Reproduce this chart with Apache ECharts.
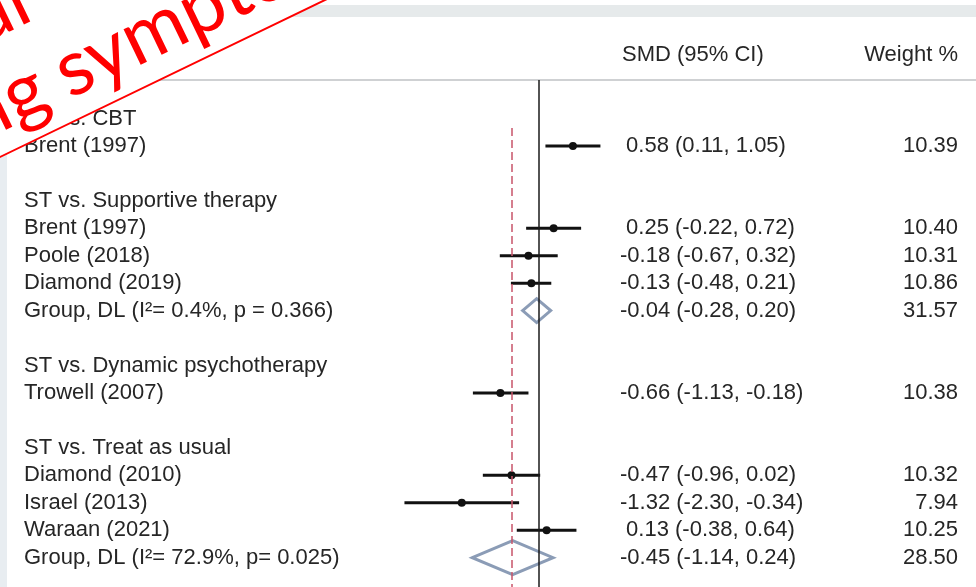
<!DOCTYPE html>
<html>
<head>
    <meta charset="utf-8">
    <title>Forest plot - SMD</title>
    <script src="https://cdn.jsdelivr.net/npm/echarts@6/dist/echarts.min.js"></script>
    <style>
        html, body { margin: 0; padding: 0; background: #fff; }
    </style>
</head>
<body>
    <div id="main" style="width: 976px;height:587px;"></div>
    <script type="text/javascript">
    // row labels (row index = position from top, '' = blank row)
    var rowLabels = [
        'ST vs. CBT',
        'Brent (1997)',
        '',
        'ST vs. Supportive therapy',
        'Brent (1997)',
        'Poole (2018)',
        'Diamond (2019)',
        'Group, DL (I\u00b2= 0.4%, p = 0.366)',
        '',
        'ST vs. Dynamic psychotherapy',
        'Trowell (2007)',
        '',
        'ST vs. Treat as usual',
        'Diamond (2010)',
        'Israel (2013)',
        'Waraan (2021)',
        'Group, DL (I\u00b2= 72.9%, p= 0.025)'
    ];

    // single studies
    var studyRows = [1, 4, 5, 6, 10, 13, 14, 15];
    var studyEst = [0.58, 0.25, -0.18, -0.13, -0.66, -0.47, -1.32, 0.13];
    var studyLo = [0.11, -0.22, -0.67, -0.48, -1.13, -0.96, -2.30, -0.38];
    var studyHi = [1.05, 0.72, 0.32, 0.21, -0.18, 0.02, -0.34, 0.64];
    var studyWeight = [10.39, 10.40, 10.31, 10.86, 10.38, 10.32, 7.94, 10.25];

    // pooled groups
    var groupRows = [7, 16];
    var groupEst = [-0.04, -0.45];
    var groupLo = [-0.28, -1.14];
    var groupHi = [0.20, 0.24];
    var groupWeight = [31.57, 28.50];

    var overallSMD = -0.46;

    // ---- build per-row text for the two right columns
    var smdText = {};
    var weightText = {};
    function fmt(v) { return v.toFixed(2); }
    function addRow(row, e, l, h, w) {
        var s = fmt(e) + ' (' + fmt(l) + ', ' + fmt(h) + ')';
        smdText[row] = (e < 0 ? '' : ' ') + s;
        weightText[row] = fmt(w);
    }
    studyRows.forEach(function (r, i) { addRow(r, studyEst[i], studyLo[i], studyHi[i], studyWeight[i]); });
    groupRows.forEach(function (r, i) { addRow(r, groupEst[i], groupLo[i], groupHi[i], groupWeight[i]); });

    var labelRows = [];
    rowLabels.forEach(function (t, i) { if (t) labelRows.push(i); });
    var valueRows = studyRows.concat(groupRows);

    var studyData = studyRows.map(function (r, i) { return [studyEst[i], studyLo[i], studyHi[i], r]; });
    var groupData = groupRows.map(function (r, i) { return [groupEst[i], groupLo[i], groupHi[i], r]; });

    var FONT = '"Liberation Sans", Arial, sans-serif';
    var TXT = '#262626';
    var yMin = -1.403, yMax = 17.07;

    var myChart = echarts.init(document.getElementById('main'));

    function yAxisBase(extra) {
        return Object.assign({
            type: 'value',
            inverse: true,
            min: yMin,
            max: yMax,
            axisLine: { show: false },
            axisTick: { show: false },
            splitLine: { show: false }
        }, extra);
    }

    // diamond half heights (px)
    var diamondHalf = [12, 17];

    var option = {
        animation: false,
        backgroundColor: '#fff',
        grid: { left: 392.75, top: 80, width: 555.75, height: 507, outerBoundsMode: 'none' },
        xAxis: {
            type: 'value', min: -2.5, max: 7,
            show: false
        },
        yAxis: [
            yAxisBase({
                position: 'left',
                axisLabel: {
                    customValues: labelRows,
                    align: 'left', margin: 368.75,
                    fontFamily: FONT, fontSize: 22, color: TXT,
                    formatter: function (v) { return rowLabels[v]; }
                }
            }),
            yAxisBase({
                position: 'right',
                axisLabel: {
                    customValues: valueRows,
                    align: 'left', margin: -328.5,
                    fontFamily: FONT, fontSize: 22, color: TXT,
                    formatter: function (v) { return smdText[v]; }
                }
            }),
            yAxisBase({
                position: 'right',
                axisLabel: {
                    customValues: valueRows,
                    align: 'right', margin: 9.5,
                    fontFamily: FONT, fontSize: 22, color: TXT,
                    formatter: function (v) { return weightText[v]; }
                }
            })
        ],
        graphic: [
            // slide background pieces
            { type: 'rect', z: -10, shape: { x: 0, y: 5, width: 976, height: 12 }, style: { fill: '#e6eaeb' } },
            { type: 'rect', z: -10, shape: { x: 0, y: 79, width: 976, height: 2 }, style: { fill: '#cfd1d3' } },
            { type: 'rect', z: -10, shape: { x: 0, y: 0, width: 7, height: 587 }, style: { fill: '#e8edf1' } },
            // column headers
            { type: 'text', z: 10, x: 622, y: 55, style: { text: 'SMD (95% CI)', font: '22px ' + FONT, fill: TXT, verticalAlign: 'middle', align: 'left' } },
            { type: 'text', z: 10, x: 958, y: 55, style: { text: 'Weight %', font: '22px ' + FONT, fill: TXT, verticalAlign: 'middle', align: 'right' } },
            // red rotated banner over the top-left corner
            {
                type: 'group', z: 100, x: 0, y: 157, rotation: Math.atan2(157, 325),
                children: [
                    { type: 'rect', z: 100, shape: { x: -300, y: -500, width: 1500, height: 500 }, style: { fill: '#fff', stroke: '#ff0000', lineWidth: 2 } },
                    { type: 'text', z: 101, x: 102, y: -134, style: { text: 'Depressive behaviour', font: '78px Lato, sans-serif', fill: '#ff0000', align: 'right', verticalAlign: 'middle' } },
                    { type: 'text', z: 101, x: 70, y: -47, style: { text: 'Self-harming', font: '78px Lato, sans-serif', fill: '#ff0000', align: 'right', verticalAlign: 'middle' } },
                    { type: 'text', z: 101, x: 88, y: -47, style: { text: 'symptoms', font: '78px Lato, sans-serif', fill: '#ff0000', align: 'left', verticalAlign: 'middle' } }
                ]
            }
        ],
        series: [
            {
                name: 'refs',
                type: 'line',
                data: [],
                markLine: {
                    silent: true,
                    symbol: 'none',
                    label: { show: false },
                    data: [
                        { xAxis: 0, lineStyle: { color: '#1a1a1a', width: 1.5, type: 'solid' } },
                        [
                            { coord: [overallSMD, 0.35], lineStyle: { color: '#c8546a', width: 1.5, type: [8, 4] } },
                            { coord: [overallSMD, yMax] }
                        ]
                    ]
                }
            },
            {
                name: 'studies',
                type: 'custom',
                data: studyData,
                encode: { x: [0, 1, 2], y: 3 },
                renderItem: function (params, api) {
                    var r = api.value(3);
                    var lo = api.coord([api.value(1), r]);
                    var hi = api.coord([api.value(2), r]);
                    var c = api.coord([api.value(0), r]);
                    return {
                        type: 'group',
                        children: [
                            { type: 'line', shape: { x1: lo[0], y1: lo[1], x2: hi[0], y2: hi[1] }, style: { stroke: '#111', lineWidth: 3 } },
                            { type: 'circle', shape: { cx: c[0], cy: c[1], r: 4 }, style: { fill: '#111' } }
                        ]
                    };
                }
            },
            {
                name: 'pooled',
                type: 'custom',
                data: groupData,
                encode: { x: [0, 1, 2], y: 3 },
                renderItem: function (params, api) {
                    var r = api.value(3);
                    var h = diamondHalf[params.dataIndex];
                    var lo = api.coord([api.value(1), r]);
                    var hi = api.coord([api.value(2), r]);
                    var c = api.coord([api.value(0), r]);
                    return {
                        type: 'polygon',
                        shape: { points: [[lo[0], lo[1]], [c[0], c[1] - h], [hi[0], hi[1]], [c[0], c[1] + h]] },
                        style: { fill: 'none', stroke: '#8b9cb6', lineWidth: 3 }
                    };
                }
            }
        ]
    };

    myChart.setOption(option);
    </script>
</body>
</html>
